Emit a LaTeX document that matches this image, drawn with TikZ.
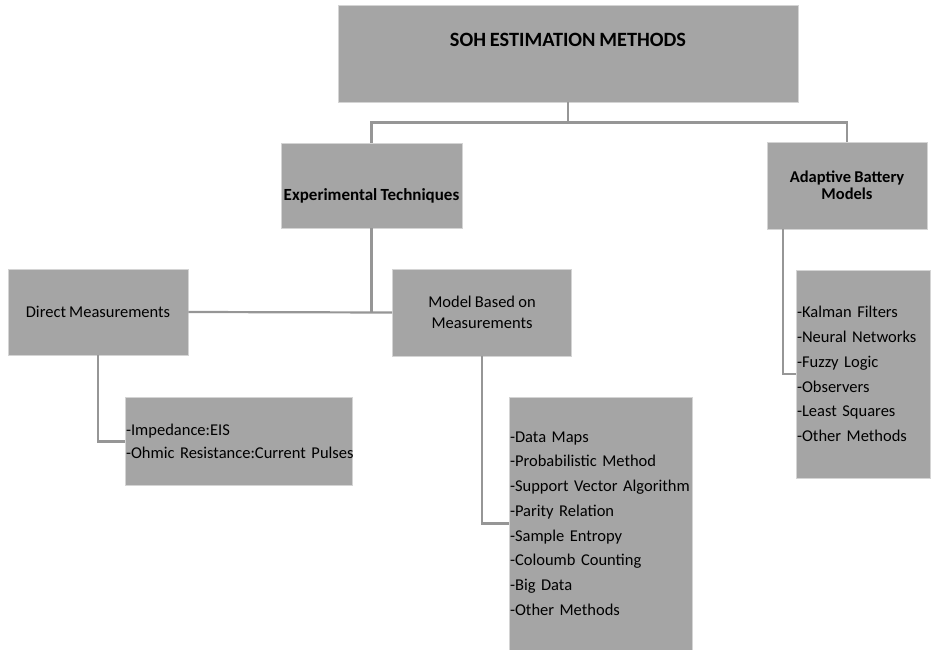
\documentclass[tikz,border=0pt]{standalone}
\usepackage{fontspec}
\setmainfont{Carlito}[WordSpace=0.85]
\definecolor{boxgray}{RGB}{165,165,165}
\definecolor{edgegray}{RGB}{212,212,212}
\definecolor{linegray}{RGB}{150,150,150}
\begin{document}
\begin{tikzpicture}[x=1pt,y=-1pt,
  box/.style={draw=edgegray,line width=0.8pt,fill=boxgray,inner sep=0pt,align=center,
    font=\fontsize{16.5}{20.5}\selectfont},
  head/.style={box,font=\bfseries\fontsize{16.5}{17}\selectfont},
  listbox/.style={box,align=left,inner xsep=1pt,font=\fontsize{16.5}{24.7}\selectfont},
  conn/.style={draw=linegray,line width=2.2pt}
]
\useasboundingbox (0,0) rectangle (931,650);

\node[head,minimum width=460,minimum height=97,text height=42,text depth=55,
  font=\bfseries\fontsize{20.3}{21}\selectfont] (top) at (568,53.5) {SOH ESTIMATION METHODS};
\node[head,minimum width=181,minimum height=85,text height=57,text depth=28,
  font=\bfseries\fontsize{17}{17}\selectfont] (exp) at (371.5,185.5) {Experimental Techniques};
\node[head,minimum width=160,minimum height=87] (adapt) at (847,185.5) {Adaptive Battery\\Models};
\node[box,minimum width=180,minimum height=86] (direct) at (98,312) {Direct Measurements};
\node[box,minimum width=179,minimum height=87] (model) at (482,312.5) {Model Based on\\Measurements};
\node[listbox,text width=225,minimum height=88,font=\fontsize{16.5}{23}\selectfont] (imp) at (238.5,441.5)
  {-Impedance:EIS\\\mbox{-Ohmic Resistance:Current Pulses}};
\node[listbox,text width=181,minimum height=253] (mlist) at (600.5,523.5)
  {-Data Maps\\-Probabilistic Method\\-Support Vector Algorithm\\-Parity Relation\\-Sample Entropy\\-Coloumb Counting\\-Big Data\\-Other Methods};
\node[listbox,text width=132,minimum height=208] (alist) at (863,374)
  {-Kalman Filters\\-Neural Networks\\-Fuzzy Logic\\-Observers\\-Least Squares\\-Other Methods};

\coordinate (j1) at (568,122.5);
\coordinate (j2) at (exp.south |- direct.east);
\draw[conn] (top.south) -- (j1);
\draw[conn] (exp.north) |- (j1);
\draw[conn] (adapt.north) |- (j1);
\draw[conn] (exp.south) -- (j2);
\draw[conn] (direct.east) -- (model.west);
\draw[conn] (direct.south) |- (imp.west);
\draw[conn] (model.south) |- (mlist.west);
\draw[conn] ([xshift=-64pt]adapt.south) |- (alist.west);
\end{tikzpicture}
\end{document}
